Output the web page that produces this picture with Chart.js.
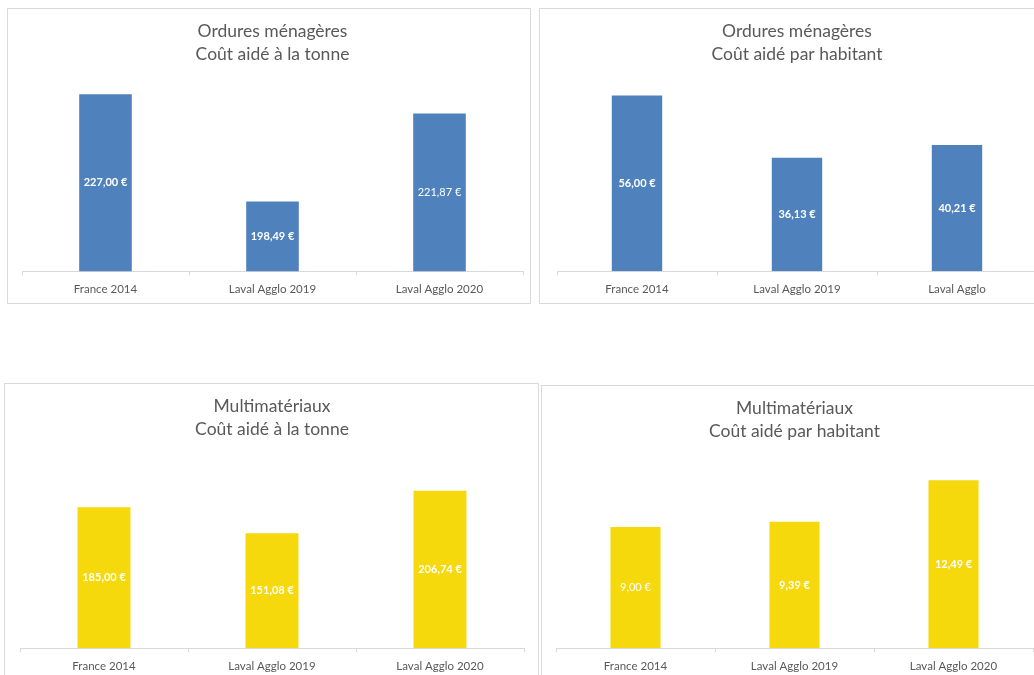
<!DOCTYPE html>
<html lang="fr">
<head>
  <meta charset="UTF-8" />
  <title>Coût aidé — Ordures ménagères et multimatériaux</title>
  <script src="https://cdn.jsdelivr.net/npm/chart.js"></script>
  <style>
    body { margin: 0; background: #fff; width: 1034px; height: 675px; overflow: hidden; position: relative; }
    .panel { position: absolute; box-sizing: border-box; border: 1px solid #d9d9d9; background: #fff; }
  </style>
</head>
<body>

  <!-- four Excel-like panels -->
  <div class="panel" style="left:7px; top:8px; width:524px; height:296px;"><canvas id="omTonneChart"></canvas></div>
  <div class="panel" style="left:539px; top:8px; width:505px; height:296px;"><canvas id="omHabChart"></canvas></div>
  <div class="panel" style="left:4px; top:383px; width:535px; height:298px;"><canvas id="multiTonneChart"></canvas></div>
  <div class="panel" style="left:541px; top:385px; width:500px; height:296px;"><canvas id="multiHabChart"></canvas></div>

  <script>
    // data
    const categories = ['France 2014', 'Laval Agglo 2019', 'Laval Agglo 2020'];
    const categoriesOmHab = ['France 2014', 'Laval Agglo 2019', 'Laval Agglo'];

    const omTonne = [227.00, 198.49, 221.87];
    const omHabitant = [56.00, 36.13, 40.21];
    const multiTonne = [185.00, 151.08, 206.74];
    const multiHabitant = [9.00, 9.39, 12.49];

    const titleOmTonne = ['Ordures ménagères', 'Coût aidé à la tonne'];
    const titleOmHab = ['Ordures ménagères', 'Coût aidé par habitant'];
    const titleMultiTonne = ['Multimatériaux', 'Coût aidé à la tonne'];
    const titleMultiHab = ['Multimatériaux', 'Coût aidé par habitant'];

    const BLUE = '#4f81bd';
    const YELLOW = '#f6d90c';
    const GREY = '#595959';
    const FONT = 'Lato, "Open Sans", sans-serif';

    const fmt = v => v.toLocaleString('fr-FR', { minimumFractionDigits: 2, maximumFractionDigits: 2 }) + ' €';

    // value labels in the middle of each bar (the visible part of it)
    const barLabels = {
      id: 'barLabels',
      afterDatasetsDraw(chart, args, opts) {
        const ctx = chart.ctx;
        const meta = chart.getDatasetMeta(0);
        const values = chart.data.datasets[0].data;
        const bottom = chart.chartArea.bottom;
        ctx.save();
        ctx.fillStyle = '#fff';
        ctx.textAlign = 'center';
        ctx.textBaseline = 'middle';
        meta.data.forEach((bar, i) => {
          const weight = (opts.weights && opts.weights[i]) || 'bold';
          ctx.font = `${weight} 11px ${FONT}`;
          ctx.fillText(fmt(values[i]), bar.x, (bar.y + Math.min(bar.base, bottom)) / 2);
        });
        ctx.restore();
      }
    };

    function makeChart(id, labels, values, title, color, yMin, yMax, pad, weights) {
      return new Chart(document.getElementById(id), {
        type: 'bar',
        data: {
          labels: labels,
          datasets: [{
            data: values,
            backgroundColor: color,
            barPercentage: 0.315,
            categoryPercentage: 1
          }]
        },
        options: {
          responsive: true,
          maintainAspectRatio: false,
          animation: false,
          layout: { padding: pad },
          plugins: {
            legend: { display: false },
            tooltip: { enabled: false },
            title: {
              display: true,
              text: title,
              color: GREY,
              font: { family: FONT, size: 17.5, weight: 'normal', lineHeight: 1.31 },
              padding: { top: 11, bottom: 17 }
            },
            barLabels: { weights: weights }
          },
          scales: {
            x: {
              grid: { display: true, drawOnChartArea: false, drawTicks: true, tickLength: 4, color: '#d9d9d9', offset: true },
              border: { color: '#d9d9d9' },
              ticks: { color: GREY, padding: 7, font: { family: FONT, size: 11.5 } }
            },
            y: { display: false, min: yMin, max: yMax }
          }
        },
        plugins: [barLabels]
      });
    }

    makeChart('omTonneChart', categories, omTonne, titleOmTonne, BLUE, 180, 230,
      { left: 14, right: 7, top: 0, bottom: 0 }, ['bold', 'bold', 'normal']);
    makeChart('omHabChart', categoriesOmHab, omHabitant, titleOmHab, BLUE, 0, 60,
      { left: 17, right: 6, top: 0, bottom: 0 }, ['bold', 'bold', 'bold']);
    makeChart('multiTonneChart', categories, multiTonne, titleMultiTonne, YELLOW, 0, 250,
      { left: 15, right: 14, top: 0, bottom: 0 }, ['bold', 'bold', 'bold']);
    makeChart('multiHabChart', categories, multiHabitant, titleMultiHab, YELLOW, 0, 14,
      { left: 14, right: 7, top: 0, bottom: 0 }, ['normal', 'bold', 'bold']);
  </script>
</body>
</html>
